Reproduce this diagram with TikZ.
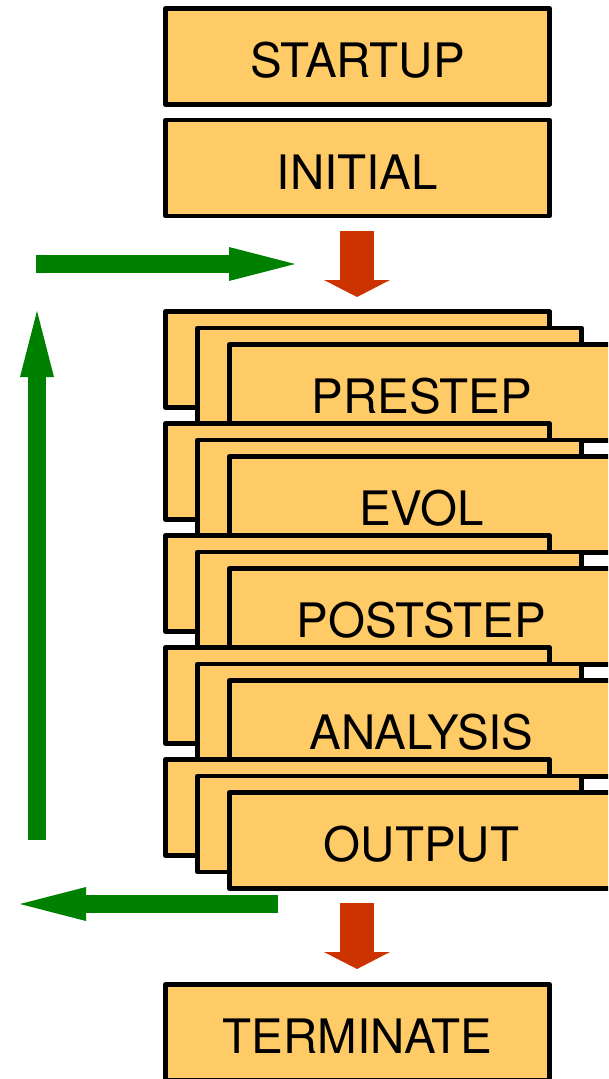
\documentclass[tikz,border=0pt]{standalone}
\usepackage{fontspec}
\setmainfont{TeX Gyre Heros}
\usetikzlibrary{arrows.meta}
\definecolor{stagefill}{HTML}{FFCB66}
\definecolor{loopgreen}{HTML}{008000}
\definecolor{flowred}{HTML}{CC3300}

\begin{document}
\begin{tikzpicture}[x=1pt,y=-1pt,
  stagebox/.style={draw=black, fill=stagefill, line width=4.6pt, line join=round,
    rectangle, minimum width=384pt, minimum height=96pt, inner sep=0pt,
    text height=42pt, text depth=0pt, font=\fontsize{47.5}{56}\selectfont},
  flowarrow/.style={draw=flowred, line width=34pt,
    -{Triangle[length=17pt,width=66pt,line width=0pt]}},
  looparrow/.style={draw=loopgreen, line width=17.5pt,
    -{Triangle[length=66pt,width=34pt,line width=0pt]}}]
\useasboundingbox (0,0) rectangle (608,1079);
\clip (0,0) rectangle (608,1079);

% one-off stages
\node[stagebox] (startup) at (357.5,56.5) {STARTUP};
\node[stagebox] (initial) at (357.5,168) {INITIAL};
\node[stagebox] (terminate) at (357.5,1032.5) {TERMINATE};

% the evolution loop: each stage drawn as a stack of three boxes
\foreach \k/\name/\txt in {0/prestep/PRESTEP, 1/evol/EVOL, 2/poststep/POSTSTEP,
                           3/analysis/ANALYSIS, 4/output/OUTPUT} {
  \node[stagebox] (\name-back) at (357.5,{359.5+112*\k}) {};
  \node[stagebox] (\name-mid)  at (389.5,{376+112*\k}) {};
  \node[stagebox] (\name)      at (421.5,{392.5+112*\k}) {\txt};
}

% control flow
\coordinate (in-top) at (357,231);
\coordinate (in-tip) at (357,297);
\coordinate (out-top) at (357,903);
\coordinate (out-tip) at (357,969);
\draw[flowarrow] (in-top) -- (in-tip);
\draw[flowarrow] (out-top) -- (out-tip);

% loop back
\coordinate (ret-start) at (278,904);
\coordinate (ret-end) at (20,904);
\coordinate (up-start) at (37,840);
\coordinate (up-end) at (37,311);
\coordinate (re-start) at (36,264);
\coordinate (re-end) at (295,264);
\draw[looparrow] (ret-start) -- (ret-end);
\draw[looparrow] (up-start) -- (up-end);
\draw[looparrow] (re-start) -- (re-end);
\end{tikzpicture}
\end{document}
